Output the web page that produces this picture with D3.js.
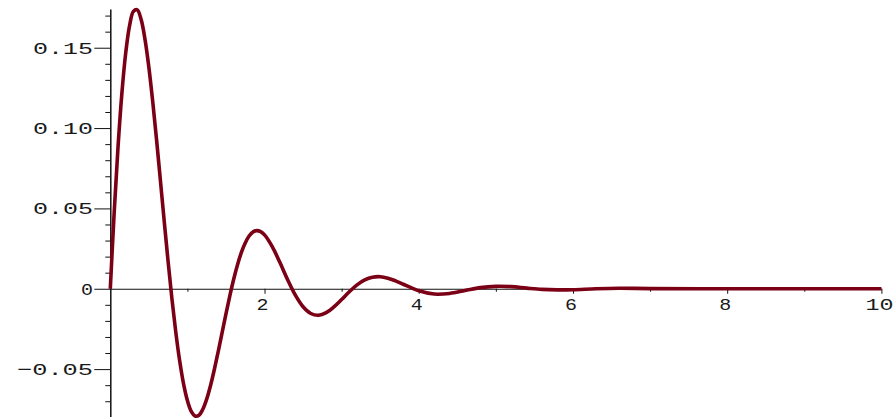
<!DOCTYPE html>
<html>
<head>
<meta charset="utf-8">
<script src="https://cdn.jsdelivr.net/npm/d3@7"></script>
<style>
  html, body { margin: 0; padding: 0; background: #fff; }
  svg { display: block; }
  .tick text { font-family: "Liberation Mono", "DejaVu Sans Mono", monospace; font-size: 17px; fill: #1a1a1a; }
</style>
</head>
<body>
<svg width="896" height="420"></svg>
<script>
// x values of the curve
const xs = [
  0, 0.05, 0.1, 0.15, 0.2, 0.25, 0.3, 0.35, 0.4, 0.45, 0.5, 0.55, 0.6, 0.65, 0.7, 0.75,
  0.8, 0.85, 0.9, 0.95, 1.0, 1.05, 1.1, 1.15, 1.2, 1.25, 1.3, 1.35, 1.4, 1.45, 1.5, 1.55,
  1.6, 1.65, 1.7, 1.75, 1.8, 1.85, 1.9, 1.95, 2.0, 2.1, 2.2, 2.3, 2.4, 2.5, 2.6, 2.7,
  2.8, 2.9, 3.0, 3.1, 3.2, 3.3, 3.4, 3.5, 3.6, 3.7, 3.8, 3.9, 4.0, 4.2, 4.4, 4.6,
  4.8, 5.0, 5.2, 5.4, 5.6, 5.8, 6.0, 6.3, 6.6, 7.0, 8.0, 9.0, 10.0
];
// y values, same order
const ys = [
  0, 0.0472, 0.0881, 0.1215, 0.1468, 0.1638, 0.1726, 0.1736, 0.1675, 0.1552, 0.1379, 0.1166, 0.0927, 0.0673, 0.0416, 0.0167,
  -0.0066, -0.0273, -0.0450, -0.0592, -0.0696, -0.0763, -0.0792, -0.0787, -0.0750, -0.0687, -0.0602, -0.0501, -0.0389, -0.0273, -0.0156, -0.0044,
  0.0059, 0.0150, 0.0226, 0.0285, 0.0328, 0.0353, 0.0362, 0.0355, 0.0335, 0.0262, 0.0163, 0.0056, -0.0040, -0.0112, -0.0154, -0.0165,
  -0.0149, -0.0113, -0.0067, -0.0019, 0.0024, 0.0055, 0.0072, 0.0075, 0.0066, 0.0049, 0.0028, 0.0007, -0.0013, -0.0033, -0.0029, -0.0011,
  0.0007, 0.0015, 0.0013, 0.0004, -0.0004, -0.0007, -0.0006, 0.0000, 0.0003, 0.0001, 0, 0, 0
];

const xMajor = [2, 4, 6, 8, 10];
const xLabels = ["2", "4", "6", "8", "10"];
const xMinor = [1, 3, 5, 7, 9];
const yMajor = [-0.05, 0, 0.05, 0.10, 0.15];
const yLabels = ["\u22120.05", "0", "0.05", "0.10", "0.15"];
const yMinor = [-0.07, -0.06, -0.04, -0.03, -0.02, -0.01, 0.01, 0.02, 0.03, 0.04,
                0.06, 0.07, 0.08, 0.09, 0.11, 0.12, 0.13, 0.14, 0.16, 0.17];

const svg = d3.select('svg');

const x = d3.scaleLinear().domain([0, 10]).range([110.3, 881.4]);
const y = d3.scaleLinear().domain([-0.0795, 0.1741]).range([416.5, 9]);

// char pitch and glyph width of the stretched label font
const pitch = 16, glyph = 12;
const labelWidth = s => pitch * (s.length - 1) + glyph;

// y axis, minor ticks
svg.append('g')
  .attr('transform', `translate(${x(0)},0)`)
  .call(d3.axisLeft(y).tickValues(yMinor).tickSize(5).tickSizeOuter(0).tickFormat(''))
  .call(g => g.select('.domain').remove())
  .call(g => g.selectAll('line').attr('stroke', '#111'));

// y axis, major ticks
svg.append('g')
  .attr('transform', `translate(${x(0)},0)`)
  .call(d3.axisLeft(y).tickValues(yMajor).tickSize(16).tickSizeOuter(0)
    .tickFormat((d, i) => yLabels[i]))
  .call(g => g.select('.domain').attr('stroke', '#111').attr('stroke-width', 1.5))
  .call(g => g.selectAll('line').attr('stroke', '#111'))
  .call(g => g.selectAll('text')
    .attr('text-anchor', 'start')
    .attr('x', function () { return 93 - x(0) - labelWidth(this.textContent); })
    .attr('dy', null)
    .attr('y', 5.5)
    .attr('textLength', function () { return labelWidth(this.textContent); })
    .attr('lengthAdjust', 'spacingAndGlyphs'));

// x axis, minor ticks
svg.append('g')
  .attr('transform', `translate(0,${y(0)})`)
  .call(d3.axisBottom(x).tickValues(xMinor).tickSize(3).tickSizeOuter(0).tickFormat(''))
  .call(g => g.select('.domain').remove())
  .call(g => g.selectAll('line').attr('stroke', '#111'));

// x axis, major ticks
svg.append('g')
  .attr('transform', `translate(0,${y(0)})`)
  .call(d3.axisBottom(x).tickValues(xMajor).tickSize(5).tickSizeOuter(0)
    .tickFormat((d, i) => xLabels[i]))
  .call(g => g.select('.domain').attr('stroke', '#111').attr('stroke-width', 1.2))
  .call(g => g.selectAll('line').attr('stroke', '#111'))
  .call(g => g.selectAll('text')
    .attr('text-anchor', 'start')
    .attr('x', function () { return -2.5 - labelWidth(this.textContent) / 2; })
    .attr('dy', null)
    .attr('y', 21)
    .attr('textLength', function () { return labelWidth(this.textContent); })
    .attr('lengthAdjust', 'spacingAndGlyphs'));

// the curve
const pts = xs.map((d, i) => [d, ys[i]]);
const line = d3.line()
  .x(d => x(d[0]))
  .y(d => y(d[1]))
  .curve(d3.curveCatmullRom.alpha(0.5));

svg.append('path')
  .datum(pts)
  .attr('d', line)
  .attr('fill', 'none')
  .attr('stroke', '#7b0016')
  .attr('stroke-width', 3.6)
  .attr('stroke-linejoin', 'round');
</script>
</body>
</html>
